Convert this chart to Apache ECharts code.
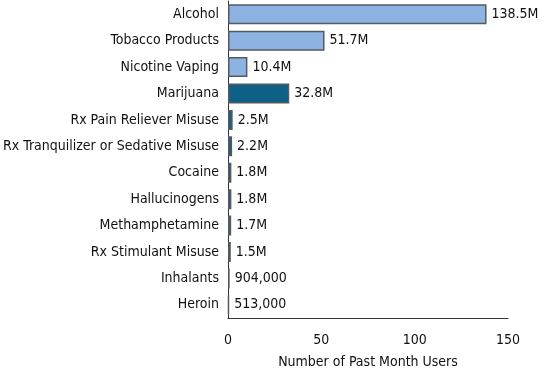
<!DOCTYPE html>
<html><head><meta charset="utf-8">
<script src="https://cdn.jsdelivr.net/npm/echarts@6/dist/echarts.min.js"></script>
<style>html,body{margin:0;padding:0;background:#fff}#c{width:549px;height:373px}</style>
</head><body><div id="c"></div>
<script>
const categories = ["Alcohol","Tobacco Products","Nicotine Vaping","Marijuana","Rx Pain Reliever Misuse","Rx Tranquilizer or Sedative Misuse","Cocaine","Hallucinogens","Methamphetamine","Rx Stimulant Misuse","Inhalants","Heroin"];
const values = [138.5, 51.7, 10.4, 32.8, 2.5, 2.2, 1.8, 1.8, 1.7, 1.5, 0.904, 0.513];
const valueLabels = ["138.5M","51.7M","10.4M","32.8M","2.5M","2.2M","1.8M","1.8M","1.7M","1.5M","904,000","513,000"];
const groups = ["legal","legal","legal","illicit","illicit","illicit","illicit","illicit","illicit","illicit","illicit","illicit"];
const xTicks = [0, 50, 100, 150];
const axisName = "Number of Past Month Users";

const FONT = "'DejaVu Sans Condensed', 'Liberation Sans', sans-serif";
const FS = 14;
const TXT = '#111';
const colors = {legal: "#8db3e2", illicit: "#0e6086"};
const chart = echarts.init(document.getElementById('c'));
chart.setOption({
  animation: false,
  grid: {left: 228, right: 41, top: 1, bottom: 55, containLabel: false, outerBoundsMode: 'none'},
  xAxis: {
    type: 'value', min: xTicks[0], max: xTicks[xTicks.length-1], interval: 50,
    name: axisName, nameLocation: 'middle', nameGap: 37,
    nameTextStyle: {fontFamily: FONT, fontSize: FS, color: TXT},
    axisLine: {show: true, lineStyle: {color: '#333', width: 1}},
    axisTick: {show: false}, splitLine: {show: false},
    axisLabel: {fontFamily: FONT, fontSize: FS, color: TXT, margin: 15}
  },
  yAxis: {
    type: 'category', data: categories, inverse: true,
    axisLine: {show: true, lineStyle: {color: '#333', width: 1}},
    axisTick: {show: false},
    axisLabel: {fontFamily: FONT, fontSize: FS, color: TXT, margin: 9}
  },
  series: [{
    type: 'bar', barWidth: 20,
    data: values.map((v, i) => ({value: v, itemStyle: {color: colors[groups[i]]}})),
    itemStyle: {borderColor: '#555a60', borderWidth: 1.5},
    label: {show: true, position: 'right', distance: 5, fontFamily: FONT, fontSize: FS, color: TXT,
      formatter: p => valueLabels[p.dataIndex]}
  }]
});
</script></body></html>
